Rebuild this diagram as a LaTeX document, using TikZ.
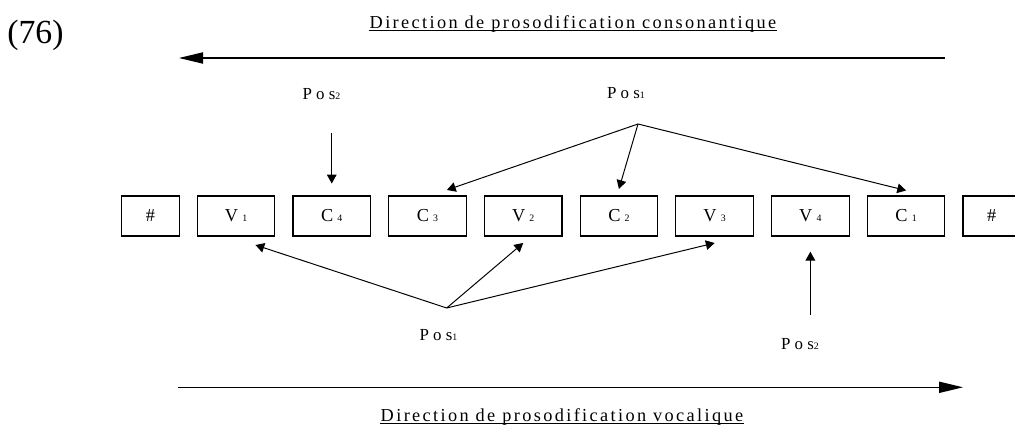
\documentclass[tikz,border=0pt]{standalone}
\usepackage{fontspec}
\setmainfont{Liberation Serif}
\newfontfamily\wideface[LetterSpace=13]{Liberation Serif}
\newfontfamily\segface[LetterSpace=15]{Liberation Serif}
\newfontfamily\posface[LetterSpace=25]{Liberation Serif}
\usetikzlibrary{arrows.meta, positioning, calc}
\newcommand{\idx}[1]{{\fontsize{7}{8}\selectfont #1}}
\newcommand{\segidx}[1]{\hspace{3pt}\idx{#1}}

\begin{document}
\begin{tikzpicture}[
        x=0.025cm, y=-0.025cm,
        seg/.style={
            draw,
            line width=0.8pt,
            minimum width=1.94cm,
            minimum height=1cm,
            inner sep=0pt,
            outer sep=0pt,
            font=\segface\fontsize{13}{15}\selectfont
        },
        hashseg/.style={seg, minimum width=1.435cm},
        lab/.style={inner sep=0pt, font=\posface\fontsize{12}{14}\selectfont},
        heading/.style={inner sep=0pt, font=\wideface\fontsize{13}{15}\selectfont},
        arr/.style={-{Triangle[length=2.2mm, width=2.4mm]}, line width=0.7pt},
        bigarr/.style={-{Triangle[length=6mm, width=2.8mm]}, line width=0.8pt},
        node distance=0.4525cm
    ]
        \path[use as bounding box, clip] (0,0) rectangle (1015,425);
        % Example number
        \node[anchor=base west, inner sep=0pt, font=\fontsize{24}{28}\selectfont] (exnum) at (7,43.3) {(76)};
        % Consonantal direction
        \node[heading, anchor=base] (consTitle) at (573,28.3) {Direction de prosodification consonantique};
        \draw[line width=0.6pt] ([yshift=-0.06cm]consTitle.base west) -- ([yshift=-0.06cm]consTitle.base east);
        \coordinate (consStart) at (945,58);
        \coordinate (consEnd) at (179,58);
        \draw[bigarr] (consStart) -- (consEnd);
        % Segments
        \node[hashseg] (hL) at (150.4,216) {\#};
        \node[seg, right=of hL] (v1) {V\segidx{1}};
        \node[seg, right=of v1] (c4) {C\segidx{4}};
        \node[seg, right=of c4] (c3) {C\segidx{3}};
        \node[seg, right=of c3] (v2) {V\segidx{2}};
        \node[seg, right=of v2] (c2) {C\segidx{2}};
        \node[seg, right=of c2] (v3) {V\segidx{3}};
        \node[seg, right=of v3] (v4) {V\segidx{4}};
        \node[seg, right=of v4] (c1) {C\segidx{1}};
        \node[hashseg, right=of c1] (hR) {\#};
        % Positions above
        \node[lab, anchor=base] (pos2top) at (321.5,100) {Pos\idx{2}};
        \node[lab, anchor=base] (pos1top) at (626,99) {Pos\idx{1}};
        \coordinate (fanTop) at (638,124);
        % Positions below
        \node[lab, anchor=base] (pos1bot) at (438.5,341) {Pos\idx{1}};
        \node[lab, anchor=base] (pos2bot) at (800,350) {Pos\idx{2}};
        \coordinate (fanBot) at (446.7,308);
        % Arrows
        \draw[arr, shorten <=0.825cm] (pos2top.south -| c4.north) -- ($(c4.north)+(0,-12.5)$);
        \draw[arr] (fanTop) -- ($(c3.north)!0.5!(c3.north east)+(0,-6)$);
        \draw[arr] (fanTop) -- ($(c2.north)+(0,-7)$);
        \draw[arr] (fanTop) -- ($(c1.north)+(0,-5.5)$);
        \draw[arr] (fanBot) -- ($(v1.south)!0.5!(v1.south east)+(0,9)$);
        \draw[arr] (fanBot) -- ($(v2.south)+(0,7)$);
        \draw[arr] (fanBot) -- ($(v3.south)+(0,7)$);
        \draw[arr, shorten <=0.6cm] (pos2bot.north -| v4.south) -- ($(v4.south)+(0,15.7)$);
        % Vocalic direction
        \coordinate (vocStart) at (178,387.3);
        \coordinate (vocEnd) at (963,387.3);
        \draw[bigarr] (vocStart) -- (vocEnd);
        \node[heading, anchor=base] (vocTitle) at (562,421.5) {Direction de prosodification vocalique};
        \draw[line width=0.6pt] ([yshift=-0.05cm]vocTitle.base west) -- ([yshift=-0.05cm]vocTitle.base east);
    \end{tikzpicture}
\end{document}
